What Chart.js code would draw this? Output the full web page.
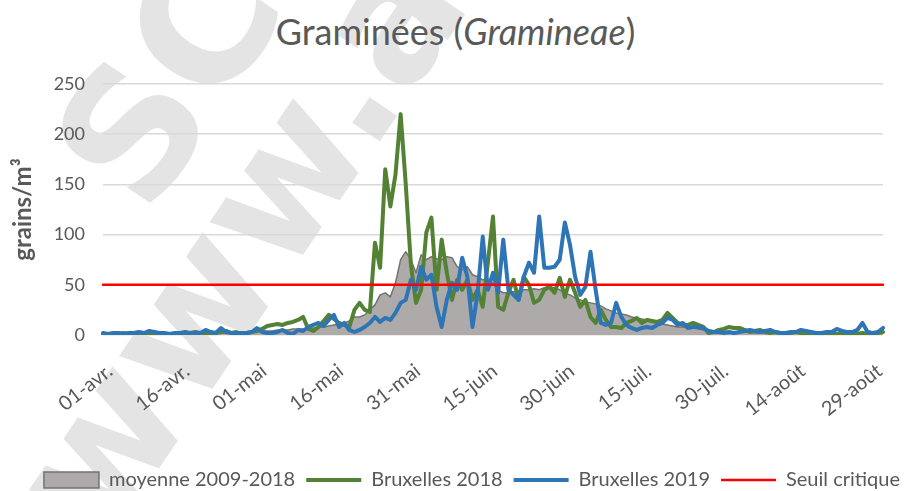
<!DOCTYPE html>
<html>
<head>
<meta charset="utf-8">
<script src="https://cdn.jsdelivr.net/npm/chart.js@4"></script>
<style>
  html, body { margin: 0; padding: 0; background: #fff; }
  #wrap { position: relative; width: 911px; height: 491px; overflow: hidden; }
  #title { position: absolute; top: 13px; left: 0; width: 911px; text-align: center;
           font-family: Lato, sans-serif; font-size: 36px; line-height: 1; color: #595959; }
  #chart { position: absolute; left: 0; top: 0; }
  .wm { position: absolute; font-family: "DejaVu Sans", sans-serif; font-weight: bold; font-size: 175px;
        line-height: 1; color: #e4e4e4; white-space: nowrap;
        transform-origin: 0 0; transform: rotate(-56deg); }
</style>
</head>
<body>
<div id="wrap">
  <div class="wm" style="left:25px; top:135px;">SC</div>
  <div class="wm" style="left:-18px; top:466px;">www.ai</div>
  <div id="title">Graminées (<i>Gramineae</i>)</div>
  <canvas id="chart" width="911" height="491"></canvas>
</div>
<script>
// --- CATEGORIES (01-avr. -> 31-août) ---
const months = ['avr.', 'mai', 'juin', 'juil.', 'août'];
const monthDays = [30, 31, 30, 31, 31];
const dayLabels = [];
months.forEach((m, i) => {
    for (let d = 1; d <= monthDays[i]; d++) dayLabels.push(String(d).padStart(2, '0') + '-' + m);
});
const tickEvery = 15;

// --- SERIES (grains/m3, daily) ---
const moyenne = [
    0, 0, 0, 1, 0, 1, 1, 1, 1, 1,
    1, 1, 1, 1, 1, 2, 1, 1, 2, 2,
    2, 2, 2, 2, 2, 3, 3, 3, 3, 3,
    3, 4, 4, 4, 5, 5, 5, 6, 6, 6,
    7, 7, 8, 8, 9, 10, 11, 12, 14, 18,
    18, 20, 25, 30, 40, 42, 38, 52, 75, 83,
    75, 62, 80, 75, 78, 76, 75, 78, 77, 68,
    65, 68, 60, 58, 55, 55, 52, 45, 42, 42,
    43, 44, 45, 45, 46, 45, 47, 48, 47, 45,
    42, 40, 37, 35, 33, 32, 31, 29, 26, 24,
    22, 21, 20, 18, 17, 16, 15, 13, 12, 11,
    10, 9, 8, 8, 7, 7, 6, 5, 5, 4,
    4, 4, 3, 3, 3, 3, 3, 2, 2, 2,
    2, 2, 2, 2, 2, 2, 2, 2, 2, 2,
    2, 2, 2, 2, 2, 2, 2, 2, 2, 2,
    2, 2, 2
];
const bxl2018 = [
    0, 1, 0, 1, 2, 1, 1, 0, 1, 2,
    1, 2, 1, 0, 1, 2, 1, 2, 3, 2,
    1, 2, 2, 3, 4, 2, 3, 1, 2, 3,
    4, 6, 9, 10, 11, 10, 12, 13, 15, 18,
    6, 4, 8, 14, 20, 16, 12, 10, 8, 25,
    32, 25, 23, 92, 67, 165, 128, 160, 220, 150,
    70, 32, 45, 102, 117, 45, 95, 62, 35, 55,
    45, 55, 35, 45, 28, 72, 118, 28, 25, 42,
    55, 35, 58, 50, 32, 35, 45, 48, 42, 57,
    38, 55, 42, 28, 35, 18, 12, 25, 15, 8,
    8, 7, 12, 14, 17, 12, 15, 14, 13, 15,
    22, 17, 12, 10, 10, 12, 10, 8, 2, 3,
    5, 6, 8, 7, 7, 5, 3, 4, 5, 3,
    2, 3, 2, 1, 2, 3, 2, 1, 1, 2,
    1, 2, 1, 1, 2, 1, 0, 1, 2, 1,
    1, 2, 3
];
const bxl2019 = [
    2, 1, 2, 2, 1, 2, 2, 3, 2, 4,
    3, 2, 2, 1, 2, 2, 3, 2, 2, 2,
    5, 3, 2, 7, 3, 2, 2, 2, 2, 3,
    7, 3, 2, 2, 3, 5, 2, 1, 5, 4,
    8, 10, 12, 9, 15, 20, 8, 12, 5, 3,
    5, 8, 12, 18, 13, 17, 15, 22, 32, 35,
    55, 45, 68, 55, 60, 28, 8, 35, 52, 45,
    77, 58, 8, 42, 98, 45, 62, 42, 95, 45,
    40, 35, 58, 72, 62, 118, 67, 67, 68, 75,
    112, 90, 58, 40, 48, 83, 45, 12, 10, 12,
    32, 18, 10, 7, 5, 7, 8, 7, 10, 12,
    17, 15, 10, 12, 7, 8, 8, 7, 4, 3,
    3, 2, 3, 2, 3, 4, 5, 4, 3, 4,
    5, 3, 2, 2, 3, 3, 5, 4, 3, 2,
    2, 3, 3, 6, 4, 3, 3, 5, 12, 3,
    2, 3, 7
];
const seuilCritique = 50;

// --- Y AXIS ---
const yMax = 250;
const yStep = 50;

const FONT = 'Lato, sans-serif';
const GREY_TEXT = '#595959';
const PLOT_BOTTOM = 335;   // pixel row of the 0 line
const PAD_BOTTOM = -9;

new Chart(document.getElementById('chart'), {
    type: 'line',
    data: {
        labels: dayLabels,
        datasets: [
            {
                label: 'moyenne 2009-2018',
                data: moyenne,
                fill: 'origin',
                backgroundColor: '#aeaaaa',
                borderColor: '#767171',
                borderWidth: 1.5,
                pointStyle: 'rect',
                order: 4
            },
            {
                label: 'Bruxelles 2018',
                data: bxl2018,
                borderColor: '#548235',
                backgroundColor: '#548235',
                borderWidth: 4,
                pointStyle: 'line',
                order: 3
            },
            {
                label: 'Bruxelles 2019',
                data: bxl2019,
                borderColor: '#2e75b6',
                backgroundColor: '#2e75b6',
                borderWidth: 4,
                pointStyle: 'line',
                order: 2
            },
            {
                label: 'Seuil critique',
                data: dayLabels.map(() => seuilCritique),
                borderColor: '#ff0000',
                backgroundColor: '#ff0000',
                borderWidth: 2.5,
                pointStyle: 'line',
                order: 1
            }
        ]
    },
    options: {
        responsive: false,
        animation: false,
        elements: {
            point: { radius: 0, hoverRadius: 0 },
            line: { tension: 0, borderJoinStyle: 'round', borderCapStyle: 'round' }
        },
        layout: { padding: { left: 0, right: 0, top: 84, bottom: PAD_BOTTOM } },
        plugins: {
            title: { display: false },
            tooltip: { enabled: false },
            legend: {
                position: 'bottom',
                align: 'end',
                labels: {
                    usePointStyle: true,
                    pointStyleWidth: 55,
                    boxHeight: 16,
                    padding: 11,
                    color: GREY_TEXT,
                    font: { family: FONT, size: 20 },
                    sort: (a, b) => a.datasetIndex - b.datasetIndex
                }
            }
        },
        scales: {
            x: {
                grid: { display: false },
                border: { display: false },
                ticks: {
                    autoSkip: false,
                    maxRotation: 38,
                    minRotation: 38,
                    labelOffset: 7,
                    padding: 16,
                    color: GREY_TEXT,
                    font: { family: FONT, size: 20 },
                    callback: function (val, i) {
                        return i % tickEvery === 0 ? this.getLabelForValue(val) : null;
                    }
                },
                afterFit: (scale) => {
                    scale.height = (491 - PLOT_BOTTOM) - scale.chart.legend.height - PAD_BOTTOM;
                }
            },
            y: {
                min: 0,
                max: yMax,
                grid: { color: '#d9d9d9', lineWidth: 1.5, drawTicks: false },
                border: { display: false },
                ticks: {
                    stepSize: yStep,
                    padding: 18,
                    color: GREY_TEXT,
                    font: { family: FONT, size: 18 }
                },
                title: {
                    display: true,
                    text: 'grains/m³',
                    color: GREY_TEXT,
                    font: { family: FONT, size: 24, weight: 'bold' },
                    padding: { top: 9, bottom: 0 }
                },
                afterFit: (scale) => {
                    scale.width = 103;
                }
            },
            // empty right-hand box that keeps the plot edge at x = 883
            yRight: {
                position: 'right',
                grid: { display: false },
                border: { display: false },
                ticks: { display: false },
                afterFit: (scale) => {
                    scale.width = 28;
                }
            }
        }
    }
});
</script>
</body>
</html>
